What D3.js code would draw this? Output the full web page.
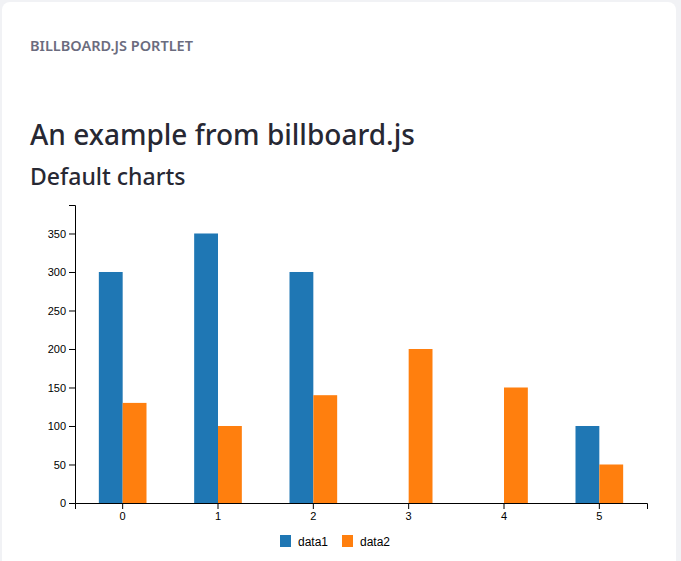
<!DOCTYPE html>
<html>
<head>
<meta charset="utf-8">
<script src="https://cdn.jsdelivr.net/npm/d3@7"></script>
<style>
  html, body { margin: 0; padding: 0; background: #f1f2f5; }
  svg { display: block; }
</style>
</head>
<body>
<div id="chart"></div>
<script>
// data
const categories = ["0", "1", "2", "3", "4", "5"];
const seriesNames = ["data1", "data2"];
const data1 = [300, 350, 300, 0, 0, 100];
const data2 = [130, 100, 140, 200, 150, 50];
const yTicks = [0, 50, 100, 150, 200, 250, 300, 350];
const colors = ["#1f77b4", "#ff7f0e"];

function drawChart() {
  const width = 681, height = 561;
  const svg = d3.select("#chart").append("svg")
    .attr("width", width)
    .attr("height", height);

  // card
  svg.append("rect")
    .attr("x", 2).attr("y", 2)
    .attr("width", 674).attr("height", 620)
    .attr("rx", 8)
    .attr("fill", "#fff");

  svg.append("text")
    .attr("x", 30).attr("y", 51)
    .attr("font-family", "'Noto Sans', sans-serif")
    .attr("font-size", 14.5)
    .attr("font-weight", 600)
    .attr("fill", "#6b6c7e")
    .text("BILLBOARD.JS PORTLET");

  svg.append("text")
    .attr("x", 30).attr("y", 145)
    .attr("font-family", "'Noto Sans', sans-serif")
    .attr("font-size", 28)
    .attr("font-weight", 500)
    .attr("fill", "#272833")
    .text("An example from billboard.js");

  svg.append("text")
    .attr("x", 30).attr("y", 185)
    .attr("font-family", "'Noto Sans', sans-serif")
    .attr("font-size", 23)
    .attr("font-weight", 500)
    .attr("fill", "#272833")
    .text("Default charts");

  // scales
  const x = d3.scaleBand().domain(categories).range([75, 647]);
  const x1 = d3.scaleBand().domain(seriesNames)
    .range([x.bandwidth() * 0.25, x.bandwidth() * 0.75]);
  const y = d3.scaleLinear().domain([0, 387]).range([503, 205]);
  const color = d3.scaleOrdinal(seriesNames, colors);

  const rows = categories.map((c, i) => ({
    cat: c,
    values: [
      { key: "data1", value: data1[i] },
      { key: "data2", value: data2[i] }
    ]
  }));

  const groups = svg.append("g").selectAll("g")
    .data(rows)
    .join("g")
    .attr("transform", d => `translate(${x(d.cat)},0)`);

  groups.selectAll("rect")
    .data(d => d.values)
    .join("rect")
    .attr("x", d => x1(d.key))
    .attr("width", x1.bandwidth())
    .attr("y", d => y(d.value))
    .attr("height", d => y(0) - y(d.value))
    .attr("fill", d => color(d.key));

  // axes
  const xAxis = svg.append("g")
    .attr("transform", `translate(0,${y(0)})`)
    .call(d3.axisBottom(x).tickSize(6));
  const yAxis = svg.append("g")
    .attr("transform", `translate(75,0)`)
    .call(d3.axisLeft(y).tickValues(yTicks).tickSize(6));

  [xAxis, yAxis].forEach(a => {
    a.selectAll("text")
      .attr("font-family", "'Liberation Sans', Arial, sans-serif")
      .attr("font-size", 11)
      .attr("fill", "#000");
    a.attr("font-family", null);
  });

  // legend
  const legend = svg.append("g")
    .selectAll("g")
    .data(seriesNames)
    .join("g")
    .attr("transform", (d, i) => `translate(${280 + i * 62},535)`);
  legend.append("rect")
    .attr("width", 11).attr("height", 12)
    .attr("fill", d => color(d));
  legend.append("text")
    .attr("x", 18).attr("y", 10.5)
    .attr("font-family", "'Liberation Sans', Arial, sans-serif")
    .attr("font-size", 12)
    .attr("fill", "#000")
    .text(d => d);
}
drawChart();
</script>
</body>
</html>
